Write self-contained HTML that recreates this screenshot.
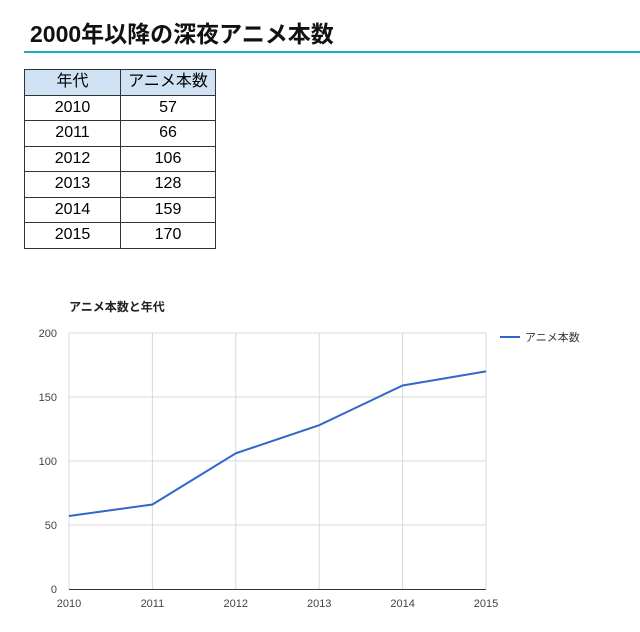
<!DOCTYPE html>
<html><head><meta charset="utf-8"><style>
body{margin:0;width:640px;height:632px;background:#fff;position:relative;font-family:"Liberation Sans","Noto Sans CJK JP",sans-serif;overflow:hidden}
h1{position:absolute;left:30px;top:19px;margin:0;font-size:23px;font-weight:bold;color:#111;line-height:30px}
.line{position:absolute;left:24px;top:51px;width:616px;height:2px;background:#1aa9c4}
table{position:absolute;left:24px;top:69px;border-collapse:collapse;font-size:16px}
td{border:1px solid #333;height:24.5px;padding:0;text-align:center;line-height:24px}
td.a{width:95px}td.b{width:94px}
tr.h td{background:#cfe2f3}
</style></head><body>
<h1>2000年以降の深夜アニメ本数</h1>
<div class="line"></div>
<table>
<tr class="h"><td class="a">年代</td><td class="b">アニメ本数</td></tr>
<tr><td>2010</td><td>57</td></tr>
<tr><td>2011</td><td>66</td></tr>
<tr><td>2012</td><td>106</td></tr>
<tr><td>2013</td><td>128</td></tr>
<tr><td>2014</td><td>159</td></tr>
<tr><td>2015</td><td>170</td></tr>
</table>
<svg width="640" height="632" style="position:absolute;left:0;top:0" font-family="Liberation Sans, Noto Sans CJK JP, sans-serif">
<text x="69" y="311" font-size="12" font-weight="bold" fill="#222">アニメ本数と年代</text>
<g stroke="#d9d9d9" stroke-width="1">
<line x1="69" y1="333" x2="486" y2="333"/><line x1="69" y1="397" x2="486" y2="397"/><line x1="69" y1="461" x2="486" y2="461"/><line x1="69" y1="525" x2="486" y2="525"/>
<line x1="69" y1="333" x2="69" y2="589"/><line x1="152.4" y1="333" x2="152.4" y2="589"/><line x1="235.8" y1="333" x2="235.8" y2="589"/><line x1="319.2" y1="333" x2="319.2" y2="589"/><line x1="402.6" y1="333" x2="402.6" y2="589"/><line x1="486" y1="333" x2="486" y2="589"/>
</g>
<line x1="69" y1="589.5" x2="486" y2="589.5" stroke="#333" stroke-width="1"/>
<g font-size="11" fill="#444" text-anchor="end">
<text x="57" y="337">200</text><text x="57" y="401">150</text><text x="57" y="465">100</text><text x="57" y="529">50</text><text x="57" y="593">0</text>
</g>
<g font-size="11" fill="#444" text-anchor="middle">
<text x="69" y="607">2010</text><text x="152.4" y="607">2011</text><text x="235.8" y="607">2012</text><text x="319.2" y="607">2013</text><text x="402.6" y="607">2014</text><text x="486" y="607">2015</text>
</g>
<polyline fill="none" stroke="#3366cc" stroke-width="2" points="69,516 152.4,504.5 235.8,453.3 319.2,425.2 402.6,385.5 486,371.4"/>
<line x1="500" y1="337" x2="520" y2="337" stroke="#3366cc" stroke-width="2"/>
<text x="525" y="341" font-size="11" fill="#333">アニメ本数</text>
</svg>
</body></html>
